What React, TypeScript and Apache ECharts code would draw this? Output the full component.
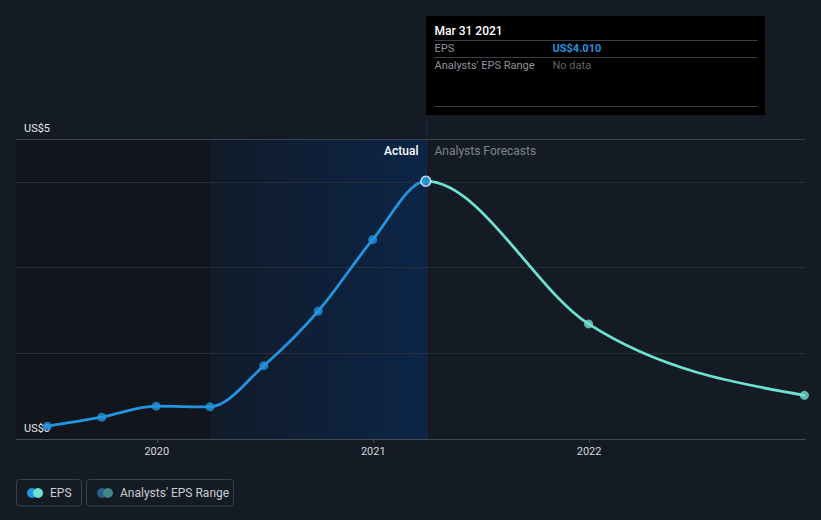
import React, { useEffect, useRef } from 'react';
import * as echarts from 'echarts';

const actualDates = ['2019-06-30', '2019-09-30', '2019-12-31', '2020-03-31', '2020-06-30', '2020-09-30', '2020-12-31', '2021-03-31'];
const actualEps = [0.2, 0.34, 0.51, 0.5, 1.14, 1.99, 3.1, 4.01];
const forecastDates = ['2021-12-31', '2022-12-31'];
const forecastEps = [1.79, 0.68];
const yearTicks = ['2020-01-01', '2021-01-01', '2022-01-01'];
const yTickLabels = ['US$0', 'US$5'];
const xStart = '2019-05-08';
const xEnd = '2023-01-01';
const pastEnd = '2020-03-31';
const yMax = 14 / 3;
const yStep = 4 / 3;
const tooltipDate = 'Mar 31 2021';
const legendNames = ['EPS', "Analysts' EPS Range"];

const BLUE = '#2394df';
const TEAL = '#6de2d0';
const BG = '#151b24';
const FONT = 'Roboto, "Noto Sans", sans-serif';

const ts = (d: string) => Date.parse(d + 'T00:00:00Z');

export default function App() {
  const ref = useRef<HTMLDivElement>(null);
  useEffect(() => {
    document.body.style.margin = '0';
    document.body.style.background = BG;
    const chart = echarts.init(ref.current!, null, { renderer: 'svg' });
    const allPts: [number, number][] = [
      ...actualDates.map((d, i) => [ts(d), actualEps[i]] as [number, number]),
      ...forecastDates.map((d, i) => [ts(d), forecastEps[i]] as [number, number]),
    ];
    const nActual = actualDates.length;
    const lastActual: [number, number] = [ts(actualDates[nActual - 1]), actualEps[nActual - 1]];
    const yearTs = yearTicks.map(ts);

    chart.setOption({
      animation: false,
      backgroundColor: BG,
      grid: { left: 16, right: 16, top: 139, bottom: 81 },
      xAxis: {
        type: 'value',
        min: ts(xStart),
        max: ts(xEnd),
        axisLine: { lineStyle: { color: '#4a5059', width: 1 } },
        axisTick: { show: true, customValues: yearTs, length: 4, lineStyle: { color: '#4a5059' } },
        axisLabel: {
          customValues: yearTs,
          formatter: (v: number) => String(new Date(v).getUTCFullYear()),
          color: '#d4d7dc',
          fontSize: 11,
          fontFamily: FONT,
          margin: 7,
        },
        splitLine: { show: false },
      },
      yAxis: {
        type: 'value',
        min: 0,
        max: yMax,
        interval: yStep,
        z: 2,
        axisLine: { show: false },
        axisTick: { show: false },
        splitLine: { lineStyle: { color: ['#444b55', '#262d37', '#262d37', '#262d37', '#3a414b'], width: 1 } },
        axisLabel: {
          inside: true,
          margin: 8,
          verticalAlign: 'bottom',
          padding: [0, 0, 5, 0],
          color: '#e6e8eb',
          fontSize: 11,
          fontFamily: FONT,
          formatter: (v: number) => (v === 0 ? yTickLabels[0] : Math.abs(v - yMax) < 1e-6 ? yTickLabels[1] : ''),
        },
      },
      series: [
        {
          type: 'scatter',
          z: 1,
          data: [],
          markArea: {
            silent: true,
            data: [
              [{ xAxis: ts(xStart), itemStyle: { color: '#12161c' } }, { xAxis: ts(pastEnd) }],
              [
                {
                  xAxis: ts(pastEnd),
                  itemStyle: {
                    color: {
                      type: 'linear', x: 0, y: 0, x2: 1, y2: 0,
                      colorStops: [
                        { offset: 0, color: '#111b2a' },
                        { offset: 1, color: '#0c2547' },
                      ],
                    },
                  },
                },
                { xAxis: lastActual[0] },
              ],
            ],
          },
        },
        {
          type: 'custom',
          z: 3,
          clip: true,
          data: [[ts(xStart), 0]],
          encode: { x: 0, y: 1 },
          renderItem: (_params: any, api: any) => {
            const pts = allPts.map((p) => api.coord(p));
            const n = pts.length;
            const h: number[] = [];
            const s: number[] = [];
            for (let i = 0; i < n - 1; i++) {
              h[i] = pts[i + 1][0] - pts[i][0];
              s[i] = (pts[i + 1][1] - pts[i][1]) / h[i];
            }
            const t = new Array(n).fill(0);
            for (let i = 1; i < n - 1; i++) {
              const p = (s[i - 1] * h[i] + s[i] * h[i - 1]) / (h[i - 1] + h[i]);
              t[i] = (Math.sign(s[i - 1]) + Math.sign(s[i])) * Math.min(Math.abs(s[i - 1]), Math.abs(s[i]), 0.5 * Math.abs(p)) || 0;
            }
            t[0] = (3 * s[0] - t[1]) / 2;
            t[n - 1] = (3 * s[n - 2] - t[n - 2]) / 2;
            const children: any[] = [];
            for (let i = 0; i < n - 1; i++) {
              const dx = h[i] / 3;
              children.push({
                type: 'bezierCurve',
                shape: {
                  x1: pts[i][0], y1: pts[i][1],
                  cpx1: pts[i][0] + dx, cpy1: pts[i][1] + dx * t[i],
                  cpx2: pts[i + 1][0] - dx, cpy2: pts[i + 1][1] - dx * t[i + 1],
                  x2: pts[i + 1][0], y2: pts[i + 1][1],
                },
                style: { stroke: i < nActual - 1 ? BLUE : TEAL, lineWidth: 2.8, fill: 'none', lineCap: 'round' },
              });
            }
            return { type: 'group', children };
          },
        },
        {
          type: 'scatter',
          z: 4,
          symbol: 'circle',
          symbolSize: 9,
          itemStyle: { color: BLUE },
          data: actualDates.map((d, i) => [ts(d), actualEps[i]]),
        },
        {
          type: 'scatter',
          z: 4,
          symbol: 'circle',
          symbolSize: 9,
          itemStyle: { color: TEAL },
          data: forecastDates.map((d, i) => [ts(d), forecastEps[i]]),
        },
        {
          type: 'scatter',
          z: 5,
          symbol: 'circle',
          symbolSize: 10,
          itemStyle: { color: BLUE, borderColor: '#ffffff', borderWidth: 1.5 },
          data: [lastActual],
        },
      ],
    });

    const cx = Math.round(chart.convertToPixel({ xAxisIndex: 0 } as any, lastActual[0]) as any) + 0.5;
    const txt = (x: number, y: number, text: string, fill: string, font: string, align = 'left') => ({
      type: 'text',
      z: 30,
      x, y,
      style: { text, fill, font, textAlign: align, textVerticalAlign: 'middle', verticalAlign: 'middle' },
    });
    const hline = (y: number, x1: number, x2: number, stroke: string) => ({
      type: 'line',
      z: 30,
      shape: { x1, y1: y, x2, y2: y },
      style: { stroke, lineWidth: 1 },
    });

    chart.setOption({
      graphic: [
        {
          type: 'line', z: 10,
          shape: { x1: cx, y1: 112, x2: cx, y2: 439 },
          style: { stroke: 'rgba(40,80,140,0.3)', lineWidth: 1 },
        },
        txt(cx - 8, 151, 'Actual', '#ffffff', `500 12px ${FONT}`, 'right'),
        txt(cx + 8, 151, 'Analysts Forecasts', '#7e848c', `12px ${FONT}`),
        {
          type: 'group', z: 20,
          children: [
            { type: 'rect', z: 25, shape: { x: cx - 0.5, y: 16, width: 339, height: 99 }, style: { fill: '#000000' } },
            txt(cx + 8, 31, tooltipDate, '#ffffff', `500 12px ${FONT}`),
            hline(40.5, cx + 8, cx + 331, '#3a3e45'),
            txt(cx + 8, 48.5, legendNames[0], '#8f949b', `11px ${FONT}`),
            txt(cx + 126, 48.5, 'US$' + lastActual[1].toFixed(3), BLUE, `bold 11px ${FONT}`),
            hline(57.5, cx + 8, cx + 331, '#3a3e45'),
            txt(cx + 8, 65, legendNames[1], '#8f949b', `11px ${FONT}`),
            txt(cx + 126, 65, 'No data', '#5f646b', `11px ${FONT}`),
            hline(106.5, cx + 8, cx + 331, '#3a3e45'),
          ],
        },
        {
          type: 'group', z: 20,
          children: [
            { type: 'rect', shape: { x: 16.5, y: 479.5, width: 65, height: 26.5, r: 3 }, style: { fill: 'none', stroke: '#3a414b', lineWidth: 1 } },
            { type: 'circle', shape: { cx: 32, cy: 493, r: 5 }, style: { fill: BLUE } },
            { type: 'circle', shape: { cx: 38, cy: 493, r: 5 }, style: { fill: TEAL } },
            txt(50, 493, legendNames[0], '#c9cdd3', `12px ${FONT}`),
            { type: 'rect', shape: { x: 86.5, y: 479.5, width: 147, height: 26.5, r: 3 }, style: { fill: 'none', stroke: '#3a414b', lineWidth: 1 } },
            { type: 'circle', shape: { cx: 102, cy: 493, r: 5 }, style: { fill: '#27608d' } },
            { type: 'circle', shape: { cx: 108, cy: 493, r: 5 }, style: { fill: '#3e8783' } },
            txt(120, 493, legendNames[1], '#c9cdd3', `12px ${FONT}`),
          ],
        },
      ],
    });

    return () => chart.dispose();
  }, []);

  return <div ref={ref} style={{ position: 'fixed', left: 0, top: 0, width: 821, height: 520 }} />;
}
